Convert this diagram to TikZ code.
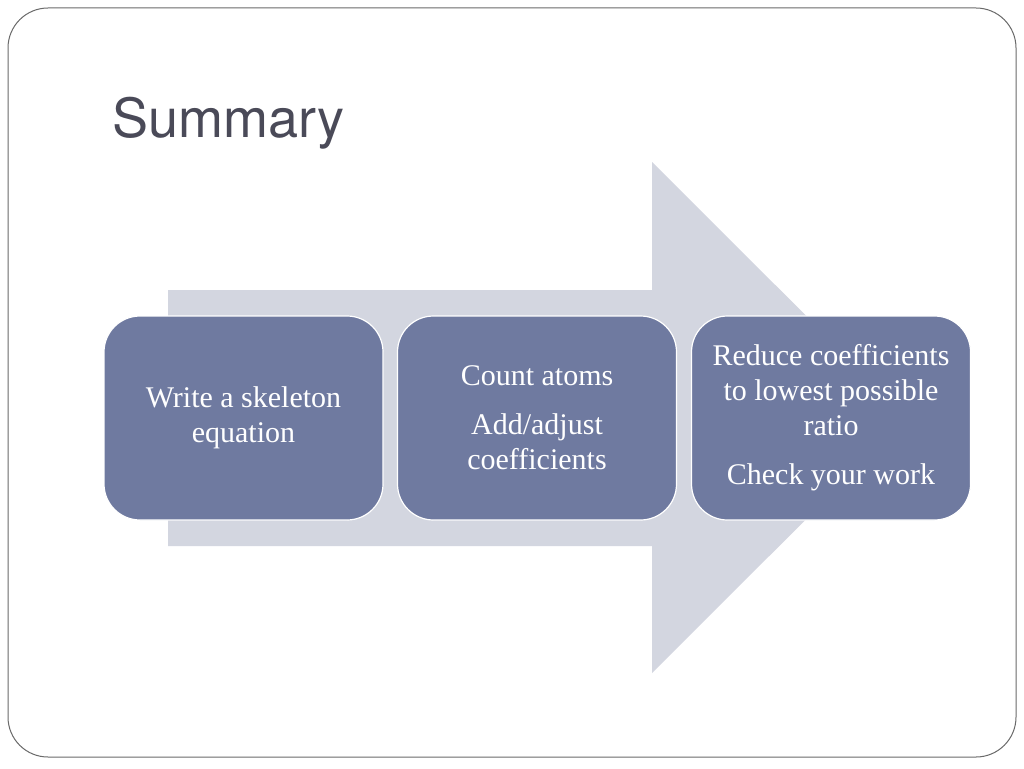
\documentclass[tikz,border=0pt]{standalone}
\usepackage{fontspec}
\setmainfont{Liberation Serif}
\newfontfamily\titlefont{TeX Gyre Heros}
\begin{document}
\begin{tikzpicture}[x=1pt,y=-1pt,
  stepbox/.style={draw=white, line width=1.2pt, fill=boxblue, rounded corners=36pt,
    minimum width=279pt, minimum height=204pt, inner sep=0pt, text=white,
    align=center, font=\fontsize{30}{35}\selectfont},
]
\definecolor{boxblue}{HTML}{6F7AA0}
\definecolor{arrowgrey}{HTML}{D3D6E0}
\definecolor{titlegrey}{HTML}{4A4A58}
\definecolor{framegrey}{HTML}{6A6A6A}
\useasboundingbox (0,0) rectangle (1024,768);
\fill[white] (0,0) rectangle (1024,768);
\draw[framegrey, line width=1pt, rounded corners=40pt] (8,8) rectangle (1016,757);
\node[anchor=base west, inner sep=0pt, text=titlegrey, font=\titlefont\fontsize{54}{60}\selectfont] (title) at (112,137) {Summary};
\fill[arrowgrey] (168,290) -- (652,290) -- (652,162) -- (908,417.5) -- (652,673) -- (652,546) -- (168,546) -- cycle;
\node[stepbox] (b1) at (243.5,418) {Write a skeleton\\equation};
\node[stepbox] (b2) at (537,418) {Count atoms\\[14pt]Add/adjust\\coefficients};
\node[stepbox] (b3) at (831,418) {Reduce coefficients\\to lowest possible\\ratio\\[14pt]Check your work};
\end{tikzpicture}
\end{document}
